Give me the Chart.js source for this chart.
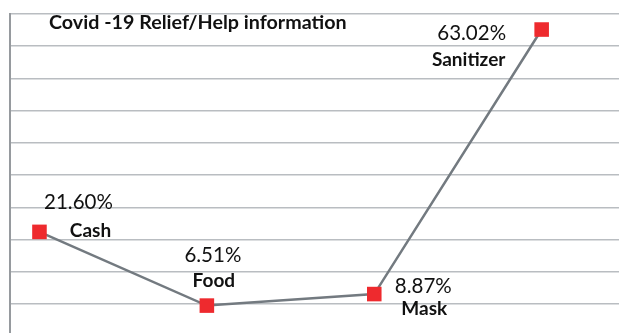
<!DOCTYPE html>
<html>
<head>
<meta charset="utf-8">
<script src="https://cdn.jsdelivr.net/npm/chart.js@4"></script>
<style>
  html, body { margin: 0; padding: 0; background: #fff; overflow: hidden; }
  #wrap { width: 619px; height: 333px; }
</style>
</head>
<body>
<div id="wrap"><canvas id="canvas" width="619" height="333"></canvas></div>
<script>
const TITLE = 'Covid -19 Relief/Help information';
const categories = ['Cash', 'Food', 'Mask', 'Sanitizer'];
const shares = [21.60, 6.51, 8.87, 63.02];

// y axis range and gridline spacing
const Y_MAX = 66.2;
const Y_MIN = 0.9;
const GRID_STEP = 6.6;

// where each point's value / name sit, relative to the marker
const labelOffsets = [
  { val: [39, -29], cat: [51, -1] },
  { val: [6, -50], cat: [7, -25] },
  { val: [49, -8], cat: [50, 15] },
  { val: [-70, 4], cat: [-73, 30] }
];

const FONT = 'Lato, "Open Sans", sans-serif';

const pointLabels = {
  id: 'pointLabels',
  afterDatasetsDraw(chart) {
    const ctx = chart.ctx;
    const meta = chart.getDatasetMeta(0);
    ctx.save();
    ctx.fillStyle = '#111';
    ctx.textAlign = 'center';
    ctx.textBaseline = 'middle';
    meta.data.forEach((pt, i) => {
      const off = labelOffsets[i];
      ctx.font = '20.5px ' + FONT;
      ctx.fillText(shares[i].toFixed(2) + '%', pt.x + off.val[0], pt.y + off.val[1]);
      ctx.font = 'bold 19px ' + FONT;
      ctx.fillText(categories[i], pt.x + off.cat[0], pt.y + off.cat[1]);
    });
    // title sits inside the plot, just under the top gridline
    ctx.textAlign = 'left';
    ctx.font = 'bold 19.7px ' + FONT;
    ctx.fillText(TITLE, 49, 23);
    ctx.restore();
  }
};

new Chart(document.getElementById('canvas').getContext('2d'), {
  type: 'line',
  data: {
    datasets: [{
      label: TITLE,
      data: shares.map((v, i) => ({ x: i, y: v })),
      borderColor: '#737a80',
      borderWidth: 2.5,
      tension: 0,
      pointStyle: 'rect',
      pointRadius: 10.3,
      pointBackgroundColor: '#ee2a2e',
      pointBorderWidth: 0,
      pointBorderColor: '#ee2a2e'
    }]
  },
  options: {
    responsive: false,
    animation: false,
    layout: { autoPadding: false, padding: { left: 10, top: 14, right: 0, bottom: 0 } },
    plugins: {
      legend: { display: false },
      tooltip: { enabled: false }
    },
    scales: {
      x: {
        type: 'linear',
        display: false,
        min: -0.176,
        max: 3.462
      },
      y: {
        min: Y_MIN,
        max: Y_MAX,
        ticks: { display: false },
        grid: { color: '#b9bdc1', lineWidth: 1.5, drawTicks: false },
        border: { display: true, color: '#969a9e', width: 2 },
        afterBuildTicks(scale) {
          const ticks = [];
          for (let v = Y_MAX; v > Y_MIN; v -= GRID_STEP) ticks.unshift({ value: v });
          scale.ticks = ticks;
        }
      }
    }
  },
  plugins: [pointLabels]
});
</script>
</body>
</html>
